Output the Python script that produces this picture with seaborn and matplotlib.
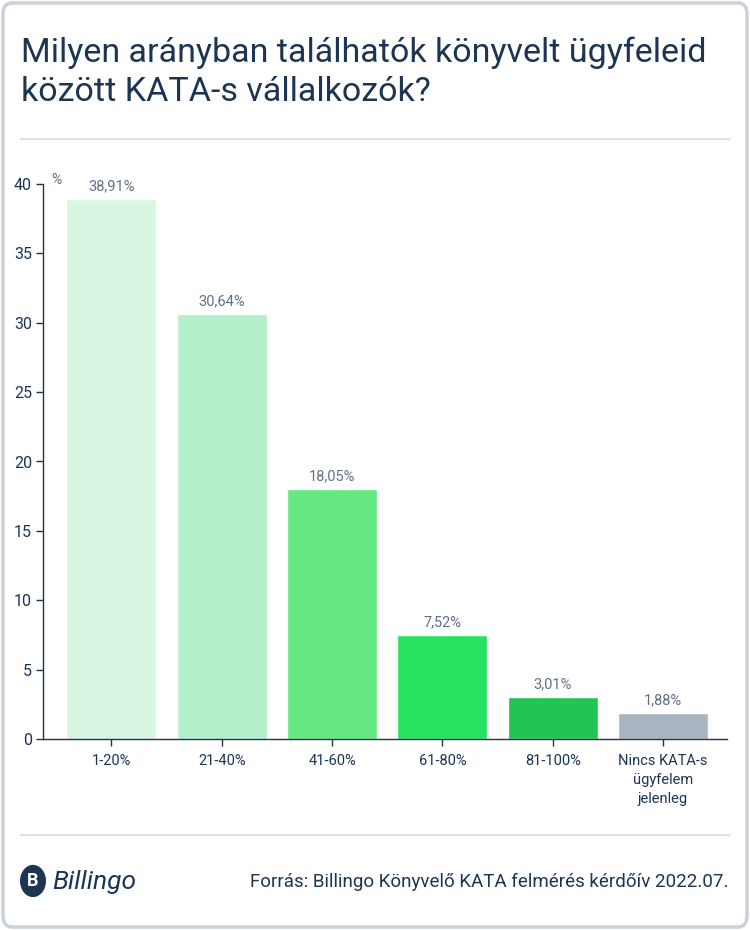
import matplotlib
matplotlib.use('Agg')
import matplotlib.pyplot as plt
import seaborn as sns
import pandas as pd
from matplotlib.patches import FancyBboxPatch, Circle
from matplotlib.lines import Line2D

# data
categories = ['1-20%', '21-40%', '41-60%', '61-80%', '81-100%', 'Nincs KATA-s\nügyfelem\njelenleg']
values = [38.91, 30.64, 18.05, 7.52, 3.01, 1.88]
value_labels = ['38,91%', '30,64%', '18,05%', '7,52%', '3,01%', '1,88%']
bar_colors = ['#d9f6e2', '#b3efca', '#66e882', '#27e25e', '#22c553', '#a8b4c0']

navy = '#1c3553'
grey_txt = '#5f7186'

sns.set_theme(style='white')
plt.rcParams['font.family'] = ['Roboto', 'DejaVu Sans']

fig = plt.figure(figsize=(7.5, 9.3), dpi=100)

# outer frame (behind everything)
frame = FancyBboxPatch((3 / 750, 3 / 930), 744 / 750, 924 / 930,
                       boxstyle='round,pad=0,rounding_size=0.012',
                       transform=fig.transFigure, facecolor='white',
                       edgecolor='#c9d1db', linewidth=2.5, zorder=-10)
fig.patches.append(frame)

# title
fig.text(21 / 750, 1 - 37 / 930, 'Milyen arányban találhatók könyvelt ügyfeleid\nközött KATA-s vállalkozók?',
         ha='left', va='top', fontsize=24.5, color=navy, linespacing=1.28)

# separators
fig.add_artist(Line2D([20 / 750, 730 / 750], [1 - 139 / 930] * 2, color='#d6dce3', lw=1.2,
                      transform=fig.transFigure))
fig.add_artist(Line2D([20 / 750, 730 / 750], [1 - 835 / 930] * 2, color='#d6dce3', lw=1.2,
                      transform=fig.transFigure))

ax = fig.add_axes([43 / 750, 1 - 739 / 930, (727 - 43) / 750, (739 - 184) / 930])
df = pd.DataFrame({'cat': categories, 'val': values})
sns.barplot(data=df, x='cat', y='val', hue='cat', palette=bar_colors, legend=False,
            width=0.815, saturation=1, ax=ax)

for i, (v, lab) in enumerate(zip(values, value_labels)):
    ax.annotate(lab, (i, v), xytext=(0, 4), textcoords='offset points',
                ha='center', va='bottom', fontsize=10.5, color=grey_txt)

ax.set_ylim(0, 40)
ax.set_xlim(-0.62, 5.58)
ax.set_yticks(range(0, 41, 5))
ax.set_xlabel('')
ax.set_ylabel('')
ax.set_facecolor('none')
for s in ['top', 'right']:
    ax.spines[s].set_visible(False)
for s in ['left', 'bottom']:
    ax.spines[s].set_color(navy)
    ax.spines[s].set_linewidth(1)
ax.tick_params(axis='both', colors=navy, length=5, width=1, direction='out',
               bottom=True, left=True)
ax.tick_params(axis='x', pad=6, labelsize=10.5)
ax.tick_params(axis='y', pad=3, labelsize=11.5)
for lbl in ax.get_xticklabels():
    lbl.set_linespacing(1.45)
ax.text(0.012, 1.008, '%', transform=ax.transAxes, ha='left', va='center',
        fontsize=10, color=grey_txt)

# footer: logo and source
fig.patches.append(Circle((33 / 750, 1 - 881 / 930), 13 / 750, transform=fig.transFigure,
                          facecolor=navy, edgecolor='none'))
fig.text(33 / 750, 1 - 881 / 930, 'B', ha='center', va='center', fontsize=13,
         color='white', fontweight='bold')
fig.text(52 / 750, 1 - 882 / 930, 'Billingo', ha='left', va='center', fontsize=19,
         color=navy, style='italic')
fig.text(728 / 750, 1 - 882 / 930, 'Forrás: Billingo Könyvelő KATA felmérés kérdőív 2022.07.',
         ha='right', va='center', fontsize=13.5, color=navy)

fig.savefig('out.png', dpi=100)
plt.close(fig)
